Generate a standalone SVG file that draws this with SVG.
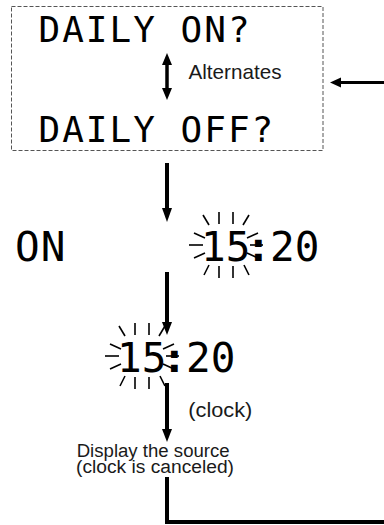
<svg xmlns="http://www.w3.org/2000/svg" xmlns:xlink="http://www.w3.org/1999/xlink" width="384" height="525" viewBox="0 0 384 525">
<style>
.lcd{font-family:"DejaVu Sans Mono","Liberation Mono",monospace;fill:#000}
.lbl{font-family:"Liberation Sans",Arial,sans-serif;fill:#1a1a1a}
.shaft{stroke:#000;fill:none;stroke-linecap:butt}
.head{fill:#000}
.ray{stroke:#000;stroke-width:1.6;fill:none}
</style>
<defs>
<g id="rays">
<line class="ray" x1="-23" y1="-30" x2="-17" y2="-20"/>
<line class="ray" x1="-7" y1="-33" x2="-7" y2="-21"/>
<line class="ray" x1="7" y1="-33" x2="7" y2="-21"/>
<line class="ray" x1="23" y1="-30" x2="17" y2="-20"/>
<line class="ray" x1="-32" y1="-12" x2="-21" y2="-7"/>
<line class="ray" x1="-37" y1="0" x2="-23" y2="0"/>
<line class="ray" x1="-32" y1="13" x2="-21" y2="8"/>
<line class="ray" x1="32" y1="-12" x2="21" y2="-7"/>
<line class="ray" x1="37" y1="0" x2="24" y2="0"/>
<line class="ray" x1="32" y1="13" x2="21" y2="8"/>
<line class="ray" x1="-17" y1="20" x2="-22" y2="30"/>
<line class="ray" x1="-7" y1="21" x2="-7" y2="33"/>
<line class="ray" x1="7" y1="21" x2="7" y2="33"/>
<line class="ray" x1="18" y1="20" x2="23" y2="30"/>
</g>
</defs>

<g id="node-daily">
<rect x="11.5" y="6.5" width="311.5" height="144" fill="none" stroke="#555" stroke-width="1" stroke-dasharray="4 2"/>
<text class="lcd" x="38.5" y="42" font-size="36" letter-spacing="2">DAILY ON?</text>
<text class="lcd" x="38.5" y="141.7" font-size="36" letter-spacing="2">DAILY OFF?</text>
<text class="lbl" x="188.5" y="79.3" font-size="21" textLength="93" lengthAdjust="spacingAndGlyphs">Alternates</text>
</g>

<g id="node-on">
<text class="lcd" x="15" y="261" font-size="41" letter-spacing="1">ON</text>
</g>

<g id="node-time1">
<use xlink:href="#rays" href="#rays" transform="translate(226,245)"/>
<text class="lcd" y="261" font-size="41"><tspan x="201">15</tspan><tspan x="246" font-weight="bold">:</tspan><tspan x="270">20</tspan></text>
</g>

<g id="node-time2">
<use xlink:href="#rays" href="#rays" transform="translate(142,356)"/>
<text class="lcd" y="371.5" font-size="41"><tspan x="117">15</tspan><tspan x="162" font-weight="bold">:</tspan><tspan x="186">20</tspan></text>
</g>

<g id="node-source">
<text class="lbl" x="76.7" y="456.7" font-size="18" textLength="153" lengthAdjust="spacingAndGlyphs">Display the source</text>
<text class="lbl" x="76" y="473.3" font-size="18" textLength="158" lengthAdjust="spacingAndGlyphs">(clock is canceled)</text>
</g>

<g id="label-clock">
<text class="lbl" x="188.3" y="417" font-size="20" textLength="64" lengthAdjust="spacingAndGlyphs">(clock)</text>
</g>

<g id="connectors">
<line class="shaft" x1="167" y1="63" x2="167" y2="90" stroke-width="3.5"/>
<polygon class="head" points="162,65 172,65 167,53"/>
<polygon class="head" points="162,88 172,88 167,100"/>
<line class="shaft" x1="384" y1="82.5" x2="339" y2="82.5" stroke-width="3"/>
<polygon class="head" points="341,77.5 341,87.5 330,82.5"/>
<line class="shaft" x1="167" y1="163" x2="167" y2="210" stroke-width="4"/>
<polygon class="head" points="162,208 172,208 167,222"/>
<line class="shaft" x1="167" y1="272" x2="167" y2="324" stroke-width="4"/>
<polygon class="head" points="162,322 172,322 167,335"/>
<line class="shaft" x1="167" y1="383" x2="167" y2="431" stroke-width="4"/>
<polygon class="head" points="162,429 172,429 167,442"/>
<polyline class="shaft" points="167,477 167,522 384,522" stroke-width="4"/>
</g>
</svg>
